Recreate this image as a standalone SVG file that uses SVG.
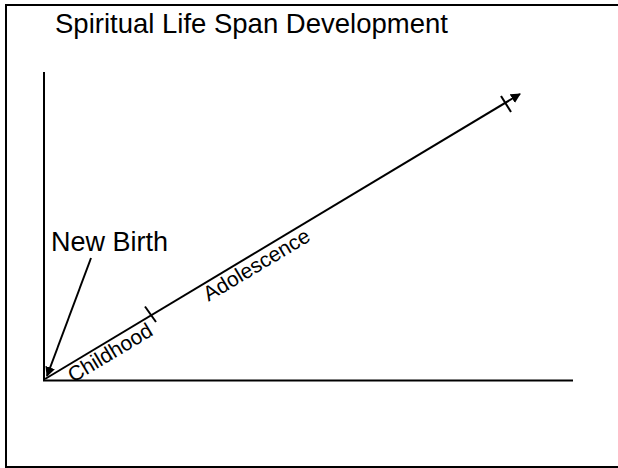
<svg xmlns="http://www.w3.org/2000/svg" width="618" height="468" viewBox="0 0 618 468">
<style>
.t{font-family:"Liberation Sans",Arial,sans-serif;fill:#000}
.ln{stroke:#000;fill:none;stroke-width:2}
</style>
<defs>
<marker id="ah" viewBox="0 0 10 10" refX="9" refY="5" markerWidth="5" markerHeight="5" orient="auto" markerUnits="strokeWidth">
<path d="M0,0 L10,5 L0,10 z" fill="#000"/>
</marker>
</defs>
<rect width="618" height="468" fill="#fff"/>
<g id="frame">
<path d="M618,5 H6 V467 H618" class="ln"/>
</g>
<g id="title"><text class="t" x="55" y="33" font-size="27.5">Spiritual Life Span Development</text></g>
<g id="axes">
<line x1="44" y1="72" x2="44" y2="381" class="ln" stroke-width="2.5"/>
<line x1="43" y1="380.5" x2="573" y2="380.5" class="ln" stroke-width="2.5"/>
</g>
<g id="connectors">
<line x1="45" y1="379" x2="520" y2="94" class="ln" marker-end="url(#ah)"/>
<line x1="91" y1="258" x2="47" y2="376" class="ln" marker-end="url(#ah)"/>
<line x1="145" y1="306.5" x2="156" y2="322" class="ln"/>
<line x1="501" y1="96" x2="511" y2="112" class="ln"/>
</g>
<g id="new-birth"><text class="t" x="51" y="251" font-size="27">New Birth</text></g>
<g id="stages" transform="translate(45,379) rotate(-30.96)">
<text class="t" x="22" y="18" font-size="21">Childhood</text>
<text class="t" x="180" y="18" font-size="21">Adolescence</text>
</g>
</svg>
